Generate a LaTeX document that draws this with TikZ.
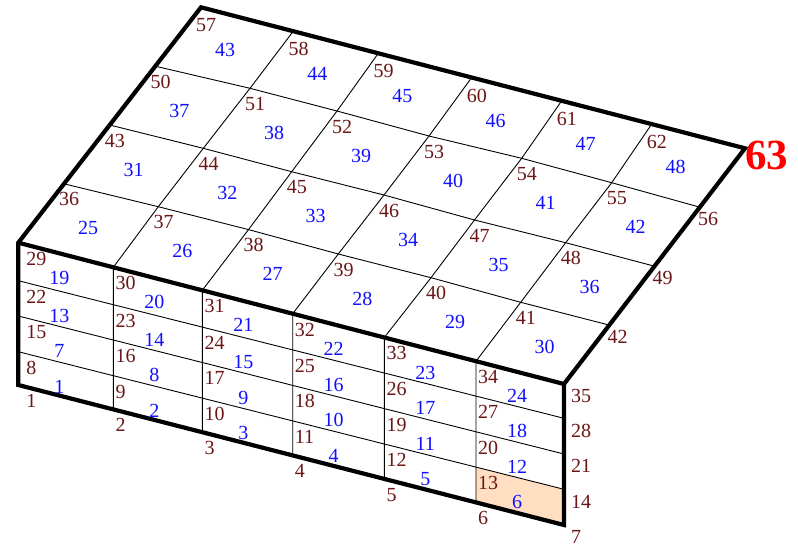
\documentclass[tikz,border=0pt]{standalone}
\usepackage{fontspec}
\setmainfont{Liberation Serif}
\usepackage{tikz}
\usetikzlibrary{calc}
\usepackage{xcolor}
\definecolor{MeshNodeRed}{HTML}{6B1616}
\definecolor{MeshElemBlue}{HTML}{1010FF}
\definecolor{MeshCornerRed}{HTML}{FF0000}
\definecolor{MeshPeach}{HTML}{FFDEC2}
\tikzset{
    % Line styles
    outline/.style={
        line width=4.2pt,
        black,
        line join=miter
    },
    gridline/.style={
        line width=0.9pt,
        black
    },
    % Label styles
    nodelabel/.style={
        inner sep=0pt,
        anchor=north west,
        text=MeshNodeRed,
        font=\fontsize{20}{24}\selectfont
    },
    elemlabel/.style={
        inner sep=0pt,
        text=MeshElemBlue,
        font=\fontsize{20}{24}\selectfont
    },
    cornerlabel/.style={
        inner sep=0pt,
        anchor=north west,
        text=MeshCornerRed,
        font=\fontsize{43}{48}\selectfont\bfseries
    }
}

\begin{document}
\begin{tikzpicture}[x=1pt, y=-1pt]
            \useasboundingbox (0,0) rectangle (798,547);

            % Mesh nodes 1..63 (rows 0-4 front face, rows 4-8 top face)
            \foreach \x/\y [count=\nd] in {
                18.3/385, 113.3/409.4, 202.3/432.2, 292.7/455.4, 384.3/478.9, 476/502.4, 564/525,
                18.3/351.7, 113.3/375.7, 202.3/398.1, 292.7/420.9, 384.3/444, 476/467.1, 564/489.3,
                18.3/316, 113.3/340, 202.3/362.5, 292.7/385.4, 384.3/408.6, 476/431.8, 564/454,
                18.3/280.7, 113.3/304.7, 202.3/327.1, 292.7/349.9, 384.3/373, 476/396.1, 564/418.3,
                18.3/242.7, 113.3/267.3, 202.3/290.3, 292.7/313.7, 384.3/337.5, 476/361.2, 564/384,
                64/183.8, 158.3/206.7, 248.5/229.6, 338.3/254, 431/277.7, 520.7/302.3, 609.3/325.1,
                109.7/125, 203.3/148.3, 291.7/171.7, 384/195, 474.5/220, 565.7/242.7, 654.5/266.2,
                155.3/66.2, 250/88.3, 337/111, 429/136, 521.7/158.3, 611.7/182.7, 699.8/207.2,
                201/7.3, 293.3/31.2, 378.3/53.3, 471.7/77.5, 561.7/100.8, 651.7/124.1, 745/148.3}
                \coordinate (n\nd) at (\x,\y);

            % Shaded element 6
            \fill[MeshPeach] (n6) -- (n7) -- (n14) -- (n13) -- cycle;

            % Grid lines
            \foreach \row [evaluate=\row as \rowA using int(7*\row+1)] in {1,2,3,5,6,7}
                \draw[gridline] (n\rowA) foreach \col [evaluate=\col as \nd using int(\rowA+\col)] in {1,...,6} { -- (n\nd) };
            \foreach \col in {2,...,6}
                \draw[gridline] (n\col) foreach \row [evaluate=\row as \nd using int(7*\row+\col)] in {1,...,8} { -- (n\nd) };

            % Outline
            \draw[outline] (n1) foreach \nd in {2,3,4,5,6,7,14,21,28,35,42,49,56,63,62,61,60,59,58,57,50,43,36,29,22,15,8} { -- (n\nd) } -- cycle;
            \draw[outline] (n29) foreach \nd in {30,...,35} { -- (n\nd) };

            % Node numbers
            \foreach \row in {0,...,8}
                \foreach \col in {1,...,7} {
                    \pgfmathtruncatemacro{\nd}{7*\row+\col}
                    \pgfmathsetmacro{\dx}{\row<5 ? (\col==1 ? 8 : (\col==7 ? 7 : 2)) : (\col==7 ? -2 : -5)}
                    \pgfmathsetmacro{\dy}{\row<5 ? (\col==7 ? 5.5 : 9) : (\row==8 ? 11 : (\col==7 ? 5 : 8.7))}
                    \ifnum\nd<63
                        \node[nodelabel] (lbl\nd) at ($(n\nd)+(\dx,\dy)$) {\nd};
                    \fi
                }
            \node[cornerlabel] (lbl63) at ($(n63)+(0,-7)$) {63};

            % Element numbers
            \foreach \row in {0,...,7}
                \foreach \col in {1,...,6} {
                    \pgfmathtruncatemacro{\el}{6*\row+\col}
                    \pgfmathtruncatemacro{\ul}{7*(\row+1)+\col}
                    \pgfmathsetmacro{\dx}{\row<4 ? 41 : 24}
                    \pgfmathsetmacro{\dy}{\row<4 ? 35 : (\row==7 ? 43 : 44.5)}
                    \node[elemlabel] (e\el) at ($(n\ul)+(\dx,\dy)$) {\el};
                }
        \end{tikzpicture}
\end{document}
